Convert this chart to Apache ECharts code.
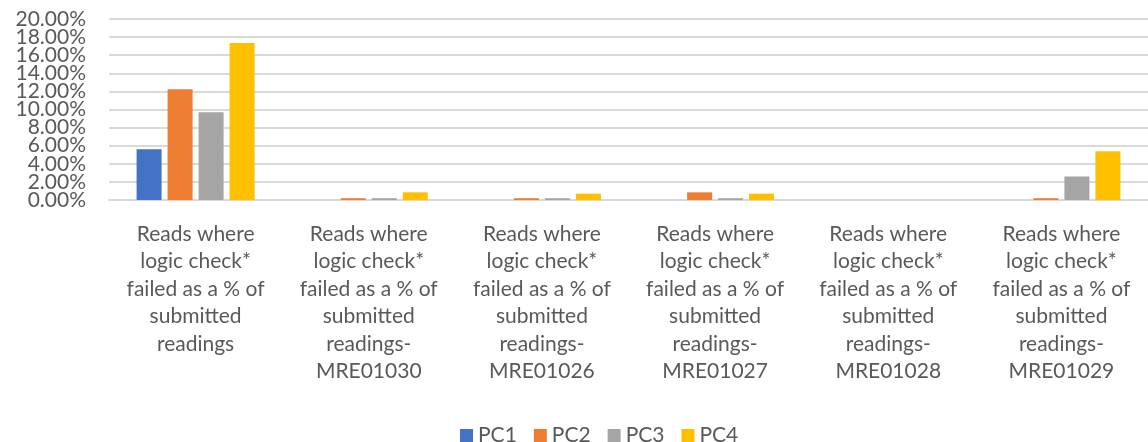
<!DOCTYPE html>
<html>
<head>
<meta charset="utf-8">
<script src="https://cdn.jsdelivr.net/npm/echarts@6/dist/echarts.min.js"></script>
<style>
  html, body { margin: 0; padding: 0; background: #fff; }
  #chart { width: 1148px; height: 442px; }
</style>
</head>
<body>
<div id="chart"></div>
<script>
  // categories as shown on the x axis
  const categories = [
    'Reads where\nlogic check*\nfailed as a % of\nsubmitted\nreadings',
    'Reads where\nlogic check*\nfailed as a % of\nsubmitted\nreadings-\nMRE01030',
    'Reads where\nlogic check*\nfailed as a % of\nsubmitted\nreadings-\nMRE01026',
    'Reads where\nlogic check*\nfailed as a % of\nsubmitted\nreadings-\nMRE01027',
    'Reads where\nlogic check*\nfailed as a % of\nsubmitted\nreadings-\nMRE01028',
    'Reads where\nlogic check*\nfailed as a % of\nsubmitted\nreadings-\nMRE01029'
  ];
  // values in %
  const pc1 = [5.6, 0, 0, 0, 0, 0];
  const pc2 = [12.25, 0.2, 0.2, 0.85, 0, 0.2];
  const pc3 = [9.7, 0.2, 0.2, 0.2, 0, 2.6];
  const pc4 = [17.35, 0.85, 0.7, 0.7, 0, 5.4];
  // y tick labels, 0 to 20 step 2
  const yTicks = ['0.00%', '2.00%', '4.00%', '6.00%', '8.00%', '10.00%',
                  '12.00%', '14.00%', '16.00%', '18.00%', '20.00%'];

  const seriesNames = ['PC1', 'PC2', 'PC3', 'PC4'];
  const colors = ['#4472C4', '#ED7D31', '#A5A5A5', '#FFC000'];
  const font = 'Lato, "Open Sans", sans-serif';

  let myChart = echarts.init(document.getElementById('chart'));
  myChart.setOption({
    animation: false,
    color: colors,
    grid: { left: 109, right: 0, top: 19, bottom: 242, containLabel: false },
    legend: {
      top: 420,
      left: 455,
      itemWidth: 13,
      itemHeight: 13,
      itemGap: 17,
      icon: 'rect',
      textStyle: { fontSize: 21, color: '#595959', fontFamily: font },
      data: seriesNames
    },
    xAxis: {
      type: 'category',
      data: categories,
      axisLine: { lineStyle: { color: '#D9D9D9', width: 2 } },
      axisTick: { show: false },
      axisLabel: {
        interval: 0,
        margin: 20,
        fontSize: 21,
        lineHeight: 27.5,
        color: '#595959',
        fontFamily: font
      }
    },
    yAxis: [{
      type: 'value',
      min: 0,
      max: 20,
      interval: 2,
      axisLine: { show: false },
      axisTick: { show: false },
      axisLabel: { show: false },
      splitLine: { lineStyle: { color: '#D9D9D9', width: 2 } }
    }, {
      // tick labels only; category axis keeps all 11 labels visible
      type: 'category',
      position: 'left',
      data: yTicks,
      boundaryGap: false,
      axisLine: { show: false },
      axisTick: { show: false },
      splitLine: { show: false },
      axisLabel: {
        interval: 0,
        margin: 23,
        fontSize: 21,
        color: '#595959',
        fontFamily: font
      }
    }],
    series: [pc1, pc2, pc3, pc4].map((d, i) => ({
      name: seriesNames[i],
      type: 'bar',
      yAxisIndex: 0,
      data: d,
      barWidth: 25,
      barGap: '24%'
    }))
  });
</script>
</body>
</html>
